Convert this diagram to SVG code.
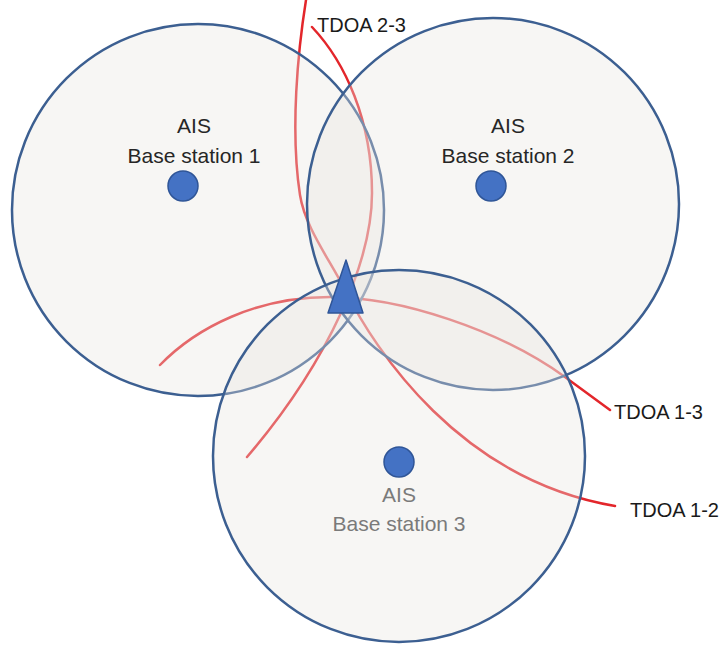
<svg xmlns="http://www.w3.org/2000/svg" width="724" height="646" viewBox="0 0 724 646">
<style>
.area{fill:#e8e6df;fill-opacity:0.35;stroke:#3c5f91;stroke-width:2.5}
.dot{fill:#4472c4;stroke:#2f5597;stroke-width:1.5}
.tdoa{fill:none;stroke:#e3262b;stroke-width:2.5;stroke-linecap:round}
.lbl{font-family:"Liberation Sans",Arial,sans-serif;font-size:21px;fill:#262626;text-anchor:middle}
.lbl3{fill:#7a7a7a}
.tl{font-family:"Liberation Sans",Arial,sans-serif;font-size:20px;fill:#1a1a1a}
</style>
<rect width="724" height="646" fill="#ffffff"/>
<g id="connectors">
<path id="tdoa-1-2" class="tdoa" d="M306,0 C298,50 290,130 300,195 C305,227.5 330,260 345,290 C375,350 460,480 615,506"/>
<path id="tdoa-2-3" class="tdoa" d="M312,27 C345,62 372,120 372,193 C372,260 330,360 247,457"/>
<path id="tdoa-1-3" class="tdoa" d="M160,365 C197,327 257,297 330,297 C400,297 500,330 565,377 L610,410"/>
</g>
<g id="station1">
<circle class="area" cx="198" cy="210" r="186"/>
<circle class="dot" cx="183" cy="186" r="15"/>
<text class="lbl" x="194" y="133">AIS</text>
<text class="lbl" x="194" y="163">Base station 1</text>
</g>
<g id="station2">
<circle class="area" cx="493" cy="204" r="186"/>
<circle class="dot" cx="491" cy="186" r="15"/>
<text class="lbl" x="508" y="133">AIS</text>
<text class="lbl" x="508" y="163">Base station 2</text>
</g>
<g id="station3">
<circle class="area" cx="399" cy="456" r="186"/>
<circle class="dot" cx="399" cy="462" r="15"/>
<text class="lbl lbl3" x="399" y="502">AIS</text>
<text class="lbl lbl3" x="399" y="531">Base station 3</text>
</g>
<g id="target">
<polygon points="346,260 328,313 363,313" fill="#4472c4" stroke="#2f5597" stroke-width="1.5" stroke-linejoin="round"/>
</g>
<g id="labels">
<text class="tl" x="317" y="32">TDOA 2-3</text>
<text class="tl" x="614" y="419">TDOA 1-3</text>
<text class="tl" x="630" y="517">TDOA 1-2</text>
</g>
</svg>
